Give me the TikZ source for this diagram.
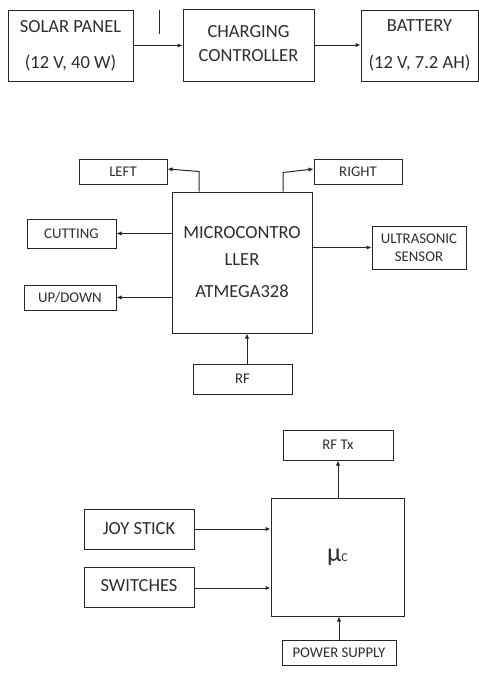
\documentclass[tikz,border=0pt]{standalone}
\usepackage{fontspec}
\setmainfont{Carlito}
\usetikzlibrary{arrows.meta}
\begin{document}
\begin{tikzpicture}[x=1pt,y=-1pt,
  box/.style={draw=black!85, line width=1pt, rectangle, inner sep=0pt, align=center, text=black!82},
  big/.style={font=\fontsize{18.5}{22}\selectfont},
  small/.style={font=\fontsize{14.8}{17}\selectfont},
  arr/.style={draw=black!85, line width=1pt, -{Latex[length=5pt,width=4.5pt]}}]
\useasboundingbox (0,0) rectangle (479,675);
% top row
\node[box,big,minimum width=125pt,minimum height=71pt] (solar) at (70.5,45.5) {SOLAR PANEL\\[14pt](12 V, 40 W)};
\node[box,big,minimum width=131pt,minimum height=72pt] (charge) at (248.5,45) {\raisebox{6pt}{\begin{tabular}{@{}c@{}}CHARGING\\[2pt]CONTROLLER\end{tabular}}};
\node[box,big,minimum width=117pt,minimum height=71pt] (battery) at (419.5,45.5) {BATTERY\\[15pt](12 V, 7.2 AH)};
\draw[draw=black!85, line width=1pt] (159,10) -- (159,34);
\draw[arr] (solar.east) -- (solar.east -| charge.west);
\draw[arr] (charge.east) -- (charge.east -| battery.west);
% middle
\node[box,big,minimum width=140pt,minimum height=141pt] (mcu) at (242,262.5) {MICROCONTRO\\[5pt]LLER\\[10pt]ATMEGA328};
\node[box,small,minimum width=88pt,minimum height=25pt] (left) at (123,171.5) {LEFT};
\node[box,small,minimum width=88pt,minimum height=25pt] (right) at (358,171.5) {RIGHT};
\node[box,small,minimum width=89pt,minimum height=29pt] (cutting) at (71.5,233.5) {CUTTING};
\node[box,small,minimum width=92pt,minimum height=25pt] (updown) at (70,297.5) {UP/DOWN};
\node[box,small,minimum width=94pt,minimum height=43pt] (ultra) at (419,247.5) {ULTRASONIC\\[1pt]SENSOR};
\node[box,small,minimum width=99pt,minimum height=30pt] (rf) at (242.5,379) {RF};
\draw[arr] ([xshift=-43pt]mcu.north) -- ++(0,-20) -- ([yshift=2.5pt]left.east);
\draw[arr] ([xshift=41pt]mcu.north) -- ++(0,-19) -- ([yshift=2.5pt]right.west);
\draw[arr] (mcu.west |- cutting.east) -- (cutting.east);
\draw[arr] (mcu.west |- updown.east) -- (updown.east);
\draw[arr] (mcu.east |- ultra.west) -- (ultra.west);
\draw[arr] ([xshift=4.5pt]rf.north) -- ([xshift=4.5pt]rf.north |- mcu.south);
% bottom
\node[box,minimum width=133pt,minimum height=118pt] (uc) at (337.5,557) {{\fontsize{26}{26}\selectfont µ}{\fontsize{12}{12}\selectfont C}};
\node[box,small,minimum width=110pt,minimum height=30pt] (rftx) at (338,445) {RF Tx};
\node[box,big,minimum width=110pt,minimum height=40pt] (joy) at (139,529) {\raisebox{2pt}{JOY STICK}};
\node[box,big,minimum width=110pt,minimum height=40pt] (sw) at (139,587) {\raisebox{3pt}{SWITCHES}};
\node[box,small,minimum width=114pt,minimum height=25pt] (ps) at (339,652.5) {POWER SUPPLY};
\draw[arr] (uc.north -| rftx.south) -- (rftx.south);
\draw[arr] (joy.east) -- (joy.east -| uc.west);
\draw[arr] ([yshift=-1pt]sw.east) -- ([yshift=-1pt]sw.east -| uc.west);
\draw[arr] (ps.north) -- (ps.north |- uc.south);
\end{tikzpicture}
\end{document}
